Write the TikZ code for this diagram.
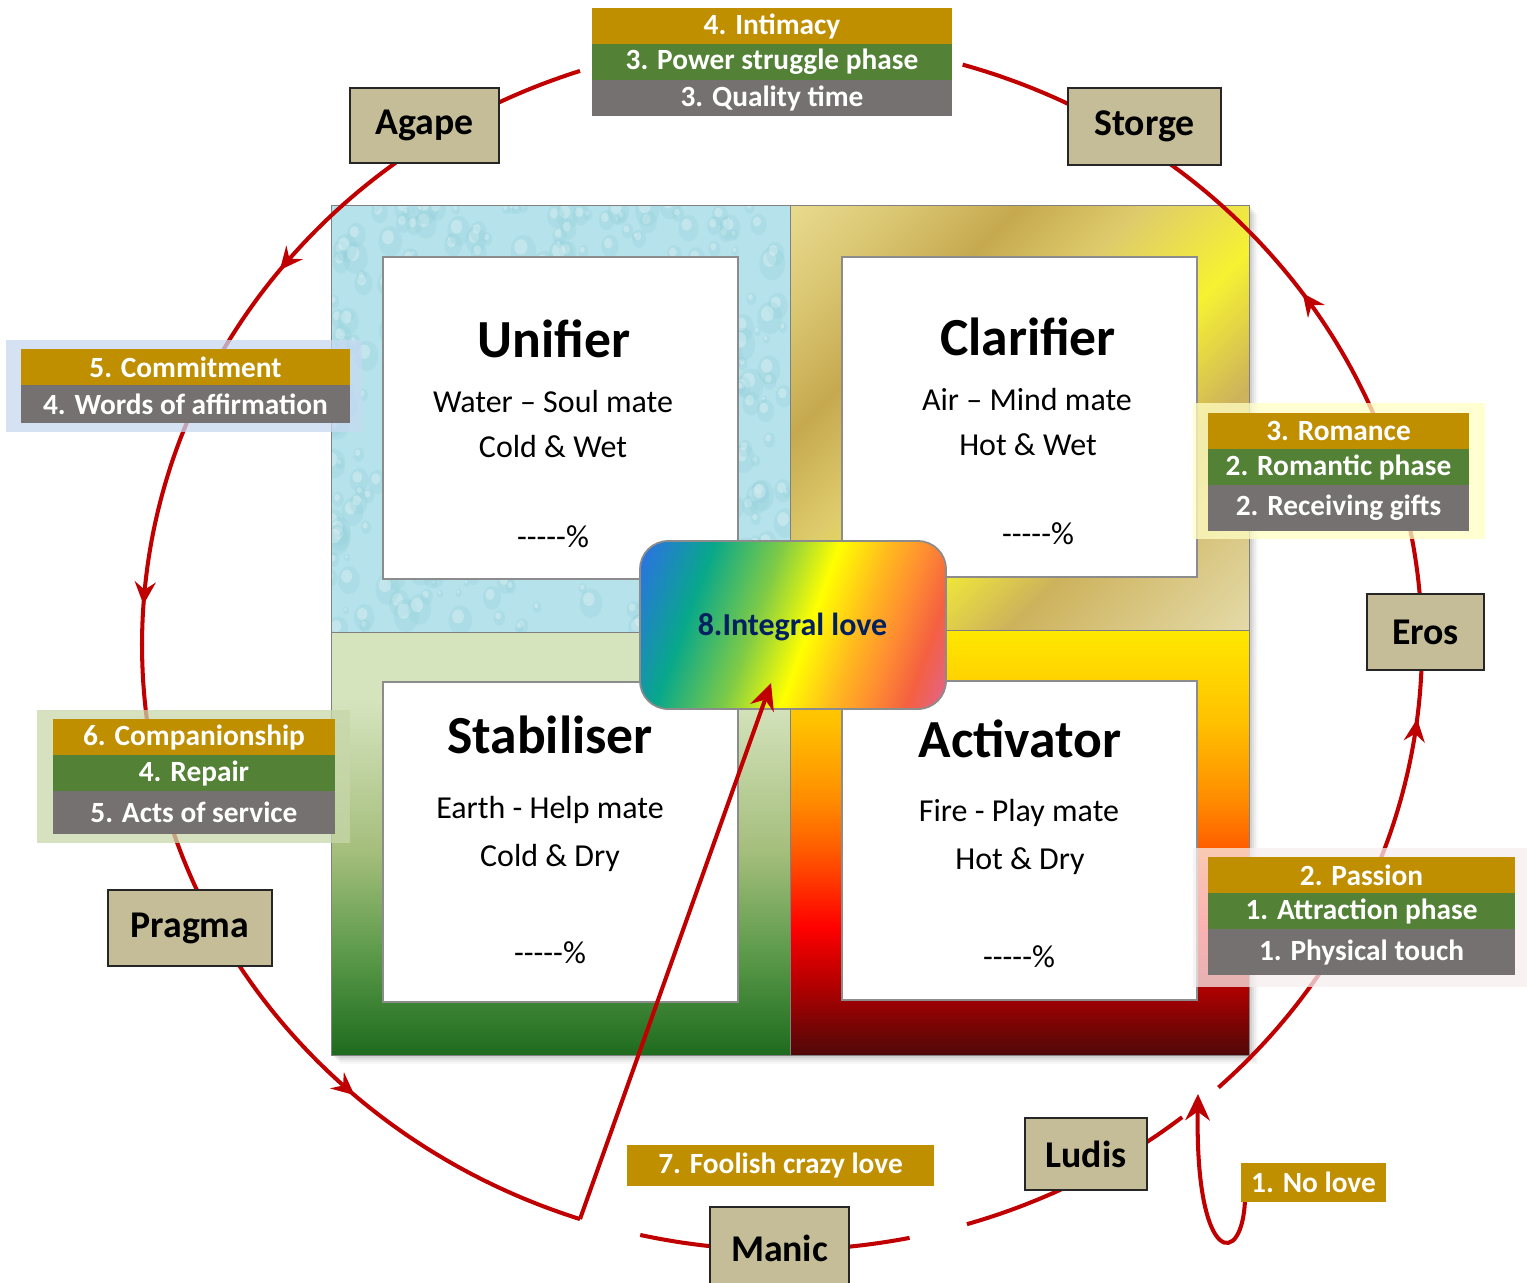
\documentclass[tikz,border=0pt]{standalone}
\usepackage{fontspec}
\setmainfont{Carlito}
\usetikzlibrary{arrows.meta,decorations.markings}
\definecolor{lred}{HTML}{C00000}
\definecolor{gold}{HTML}{BF8F00}
\definecolor{barg}{HTML}{538135}
\definecolor{grey}{HTML}{767171}
\definecolor{tanc}{HTML}{C4BD97}
\definecolor{navy}{HTML}{002060}
\definecolor{water}{HTML}{B6E3EB}
\definecolor{waterdk}{HTML}{8ACBD8}
\definecolor{g1}{HTML}{E8DA8E}
\definecolor{g2}{HTML}{DAC672}
\definecolor{g3}{HTML}{C6A94F}
\definecolor{g4}{HTML}{DECB6C}
\definecolor{g5}{HTML}{F6F232}
\definecolor{g6}{HTML}{CDB25C}
\definecolor{g7}{HTML}{E4DAA8}
\definecolor{gr1}{HTML}{D6E4BE}
\definecolor{gr2}{HTML}{A4BE7C}
\definecolor{gr3}{HTML}{5C9A4A}
\definecolor{gr4}{HTML}{1E6B1E}
\definecolor{a1}{HTML}{FFE800}
\definecolor{a2}{HTML}{FFC000}
\definecolor{a3}{HTML}{FF8C00}
\definecolor{a4}{HTML}{FF5A00}
\definecolor{a5}{HTML}{FF0000}
\definecolor{a6}{HTML}{B00000}
\definecolor{a7}{HTML}{500808}
\definecolor{rb1}{HTML}{2E6FE8}
\definecolor{rb2}{HTML}{08A88A}
\definecolor{rb3}{HTML}{7ECB46}
\definecolor{rb4}{HTML}{FFFF00}
\definecolor{rb5}{HTML}{FFB81E}
\definecolor{rb6}{HTML}{FF9030}
\definecolor{rb7}{HTML}{F46040}
\definecolor{rb8}{HTML}{E2648E}
\definecolor{bgblue}{HTML}{C6D9F1}
\definecolor{bgyel}{HTML}{FFFFC4}
\definecolor{bgpink}{HTML}{F7EEEE}
\definecolor{bggreen}{HTML}{C8D7AA}
\pgfdeclarehorizontalshading{goldsh}{100bp}{color(0bp)=(g1); color(14.6bp)=(g1); color(23.5bp)=(g2); color(33bp)=(g3); color(43bp)=(g4); color(55bp)=(g5); color(66bp)=(g6); color(85.4bp)=(g7); color(100bp)=(g7)}
\pgfdeclareverticalshading{greensh}{100bp}{color(0bp)=(gr4); color(25bp)=(gr4); color(37bp)=(gr3); color(49bp)=(gr2); color(67bp)=(gr1); color(75bp)=(gr1); color(100bp)=(gr1)}
\pgfdeclareverticalshading{firesh}{100bp}{color(0bp)=(a7); color(25bp)=(a7); color(33bp)=(a6); color(40bp)=(a5); color(49bp)=(a4); color(55bp)=(a3); color(64bp)=(a2); color(75bp)=(a1); color(100bp)=(a1)}
\pgfdeclarehorizontalshading{rainbowsh}{100bp}{color(0bp)=(rb1); color(18bp)=(rb1); color(31bp)=(rb2); color(43bp)=(rb3); color(53bp)=(rb4); color(62bp)=(rb5); color(68bp)=(rb6); color(75bp)=(rb7); color(82bp)=(rb8); color(100bp)=(rb8)}
\newcommand\bx[7]{\node[#6, minimum width={(#4-#2)*0.02cm}, minimum height={(#5-#3)*0.02cm}] (#1) at ({(#2+#4)/2},{(#3+#5)/2}) {#7};}
\begin{document}
\begin{tikzpicture}[x=0.02cm,y=-0.02cm,
  rline/.style={draw=lred, line width=2.3pt},
  ttl/.style={font=\fontsize{30.5}{35}\selectfont\bfseries, anchor=base, inner sep=0},
  sub/.style={font=\fontsize{18.2}{22}\selectfont, anchor=base, inner sep=0},
  barsty/.style={text=white, font=\fontsize{16.7}{20}\selectfont\bfseries, inner sep=0, outer sep=0},
  lbl/.style={fill=tanc, draw=black!85, line width=1pt, font=\fontsize{21.5}{25}\selectfont\bfseries, inner sep=0},
  inbox/.style={fill=white, draw=black!45, line width=0.6pt, inner sep=0},
  paleb/.style={inner sep=0, outer sep=0, opacity=0.75},
  tipa/.style={-{Stealth[length=15pt,width=14pt,inset=5pt]}},
  marr/.style={postaction={decorate}, decoration={markings, mark=at position #1 with {\arrow{Stealth[length=13pt,width=12pt,inset=4.5pt]}}}},
  marrtwo/.style 2 args={postaction={decorate}, decoration={markings, mark=at position #1 with {\arrow{Stealth[length=13pt,width=12pt,inset=4.5pt]}}, mark=at position #2 with {\arrow{Stealth[length=13pt,width=12pt,inset=4.5pt]}}}}
]
\useasboundingbox (0,0) rectangle (1527,1282);
\fill[white] (0,0) rectangle (1527,1282);

% shadow of the block
\foreach \d/\o in {9/0.03,7/0.04,5/0.05,3/0.07}
  \fill[black,opacity=\o] (331+\d,205+\d) rectangle (1249+\d,1055+\d);

% Unifier: water texture
\begin{scope}
\clip (331,205) rectangle (790,632);
\fill[water] (331,205) rectangle (790,632);
\pgfmathsetseed{11}
\foreach \i in {1,...,420}{%
  \pgfmathsetmacro\px{331+rnd*459}%
  \pgfmathsetmacro\py{205+rnd*427}%
  \pgfmathsetmacro\pr{3+rnd*10}%
  \fill[waterdk, opacity=0.22] (\px,\py) ellipse ({\pr} and {\pr*1.3});
  \fill[white, opacity=0.28] ({\px-0.2*\pr},{\py-0.35*\pr}) ellipse ({\pr*0.5} and {\pr*0.6});
}
\end{scope}
\draw[black!50, line width=0.5pt] (331,205) rectangle (790,632);
% Clarifier: gold
\shade[shading=goldsh, shading angle=-45] (790,205) rectangle (1249,630);
\draw[black!50, line width=0.5pt] (790,205) rectangle (1249,630);
% Stabiliser: green
\shade[shading=greensh] (331,632) rectangle (790,1055);
\draw[black!50, line width=0.5pt] (331,632) rectangle (790,1055);
% Activator: fire
\shade[shading=firesh] (790,630) rectangle (1249,1055);
\draw[black!50, line width=0.5pt] (790,630) rectangle (1249,1055);

% inner white boxes
\bx{uw}{383}{257}{738}{579}{inbox}{}
\bx{cw}{842}{257}{1197}{577}{inbox}{}
\bx{sw}{383}{682}{738}{1002}{inbox}{}
\bx{aw}{842}{681}{1197}{1000}{inbox}{}

% quadrant texts
\node[ttl] (ut) at (554,357) {Unifier};
\node[sub] (u1) at (553,412) {Water – Soul mate};
\node[sub] (u2) at (553,457) {Cold \& Wet};
\node[sub] (u3) at (553,547) {-{}-{}-{}-{}-\%};
\node[ttl] (ct) at (1028,355) {Clarifier};
\node[sub] (c1t) at (1027,410) {Air – Mind mate};
\node[sub] (c2t) at (1028,455) {Hot \& Wet};
\node[sub] (c3t) at (1038,544) {-{}-{}-{}-{}-\%};
\node[ttl] (st) at (550,753) {Stabiliser};
\node[sub] (s1) at (550,818) {Earth - Help mate};
\node[sub] (s2) at (550,866) {Cold \& Dry};
\node[sub] (s3) at (550,963) {-{}-{}-{}-{}-\%};
\node[ttl] (at) at (1020,757) {Activator};
\node[sub] (a1t) at (1019,821) {Fire - Play mate};
\node[sub] (a2t) at (1020,869) {Hot \& Dry};
\node[sub] (a3t) at (1019,967) {-{}-{}-{}-{}-\%};

% integral love
\node[shade, shading=rainbowsh, shading angle=-20, draw=black!45, line width=1pt, rounded corners=0.56cm,
  minimum width=6.12cm, minimum height=3.36cm, inner sep=0] (il) at (793,625) {};
\node[font=\fontsize{18.2}{22}\selectfont\bfseries, text=navy, anchor=base, inner sep=0] (ilt) at (792.5,635) {8.Integral love};

% the love cycle (ellipse arcs)
\draw[rline] plot[domain=108.4:120, samples=20] ({782+640*cos(\x)},{645-605*sin(\x)});
\draw[rline] plot[domain=60:73.6, samples=20] ({782+640*cos(\x)},{645-605*sin(\x)});
\draw[rline, marr=0.63] plot[domain=3.5:54, samples=60] ({782+640*cos(\x)},{645-605*sin(\x)});
\draw[rline, marr=0.89] plot[domain=-47:-2, samples=60] ({782+640*cos(\x)},{645-605*sin(\x)});
\draw[rline] plot[domain=-58:-51.3, samples=15] ({782+640*cos(\x)},{645-605*sin(\x)});
\draw[rline] plot[domain=-73.2:-62, samples=20] ({782+640*cos(\x)},{645-605*sin(\x)});
\draw[rline] plot[domain=-86:-78.5, samples=15] ({782+640*cos(\x)},{645-605*sin(\x)});
\draw[rline] plot[domain=-102.8:-94, samples=15] ({782+640*cos(\x)},{645-605*sin(\x)});
\draw[rline, marr=0.43] plot[domain=-150:-108.4, samples=60] ({782+640*cos(\x)},{645-605*sin(\x)});
\draw[rline, marrtwo={0.2}{0.63}] plot[domain=126:206, samples=90] ({782+640*cos(\x)},{645-605*sin(\x)});

% foolish love into integral love
\coordinate (fc) at (580,1219);
\coordinate (iltip) at (771,683);
\draw[rline, tipa] (fc) -- (iltip);

% no love loop
\coordinate (nl0) at (1245,1199);
\coordinate (nltip) at (1198,1094);
\draw[rline, tipa] (nl0) .. controls (1243,1268) and (1195,1268) .. (nltip);

% pale backgrounds
\bx{bgc}{6}{340}{362}{432}{paleb, fill=bgblue}{}
\bx{bgr}{1193}{403}{1485}{539}{paleb, fill=bgyel}{}
\bx{bgp}{1193}{848}{1527}{987}{paleb, fill=bgpink}{}
\bx{bgs}{37}{710}{350}{843}{paleb, fill=bggreen}{}

% bars
\bx{b41}{592}{8}{952}{44}{barsty, fill=gold}{4. Intimacy}
\bx{b42}{592}{44}{952}{80}{barsty, fill=barg}{3. Power struggle phase}
\bx{b43}{592}{80}{952}{116}{barsty, fill=grey}{3. Quality time}
\bx{b51}{21}{349}{350}{385}{barsty, fill=gold}{5. Commitment}
\bx{b52}{21}{385}{350}{423}{barsty, fill=grey}{4. Words of affirmation}
\bx{b31}{1208}{413}{1469}{449}{barsty, fill=gold}{3. Romance}
\bx{b32}{1208}{449}{1469}{485}{barsty, fill=barg}{2. Romantic phase}
\bx{b33}{1208}{485}{1469}{531}{barsty, fill=grey}{2. Receiving gifts}
\bx{b21}{1208}{857}{1515}{893}{barsty, fill=gold}{2. Passion}
\bx{b22}{1208}{893}{1515}{929}{barsty, fill=barg}{1. Attraction phase}
\bx{b23}{1208}{929}{1515}{975}{barsty, fill=grey}{1. Physical touch}
\bx{b61}{53}{719}{335}{755}{barsty, fill=gold}{6. Companionship}
\bx{b62}{53}{755}{335}{791}{barsty, fill=barg}{4. Repair}
\bx{b63}{53}{791}{335}{834}{barsty, fill=grey}{5. Acts of service}
\bx{b7}{627}{1145}{934}{1186}{barsty, fill=gold}{7. Foolish crazy love}
\bx{b1}{1241}{1163}{1386}{1202}{barsty, fill=gold}{1. No love}

% love-style labels
\bx{agape}{350}{88}{499}{163}{lbl}{Agape}
\bx{storge}{1068}{88}{1221}{165}{lbl}{Storge}
\bx{eros}{1367}{594}{1484}{670}{lbl}{Eros}
\bx{pragma}{108}{890}{272}{966}{lbl}{Pragma}
\bx{ludis}{1025}{1118}{1147}{1190}{lbl}{Ludis}
\bx{manic}{710}{1207}{849}{1290}{lbl}{Manic}
\end{tikzpicture}
\end{document}
